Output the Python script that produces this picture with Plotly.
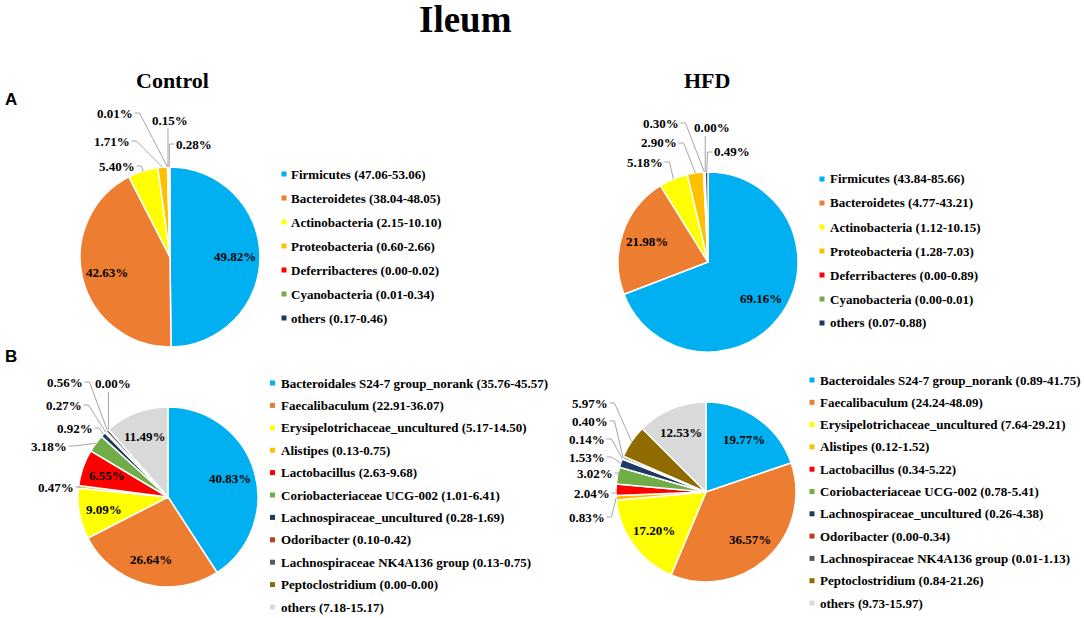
import math
import plotly.graph_objects as go

W, H = 1084, 618

# ---------------- data ----------------
phyla = ["Firmicutes", "Bacteroidetes", "Actinobacteria", "Proteobacteria",
         "Deferribacteres", "Cyanobacteria", "others"]
control_phyla = [49.82, 42.63, 5.40, 1.71, 0.01, 0.15, 0.28]
control_phyla_lo = [47.06, 38.04, 2.15, 0.60, 0.00, 0.01, 0.17]
control_phyla_hi = [53.06, 48.05, 10.10, 2.66, 0.02, 0.34, 0.46]
hfd_phyla = [69.16, 21.98, 5.18, 2.90, 0.30, 0.00, 0.49]
hfd_phyla_lo = [43.84, 4.77, 1.12, 1.28, 0.00, 0.00, 0.07]
hfd_phyla_hi = [85.66, 43.21, 10.15, 7.03, 0.89, 0.01, 0.88]

genera = ["Bacteroidales S24-7 group_norank", "Faecalibaculum",
          "Erysipelotrichaceae_uncultured", "Alistipes", "Lactobacillus",
          "Coriobacteriaceae UCG-002", "Lachnospiraceae_uncultured", "Odoribacter",
          "Lachnospiraceae NK4A136 group", "Peptoclostridium", "others"]
control_genera = [40.83, 26.64, 9.09, 0.47, 6.55, 3.18, 0.92, 0.27, 0.56, 0.00, 11.49]
control_genera_lo = [35.76, 22.91, 5.17, 0.13, 2.63, 1.01, 0.28, 0.10, 0.13, 0.00, 7.18]
control_genera_hi = [45.57, 36.07, 14.50, 0.75, 9.68, 6.41, 1.69, 0.42, 0.75, 0.00, 15.17]
hfd_genera = [19.77, 36.57, 17.20, 0.83, 2.04, 3.02, 1.53, 0.14, 0.40, 5.97, 12.53]
hfd_genera_lo = [0.89, 24.24, 7.64, 0.12, 0.34, 0.78, 0.26, 0.00, 0.01, 0.84, 9.73]
hfd_genera_hi = [41.75, 48.09, 29.21, 1.52, 5.22, 5.41, 4.38, 0.34, 1.13, 21.26, 15.97]

# ---------------- styles / layout ----------------
phyla_colors = ["#00B0F0", "#ED7D31", "#FFFF00", "#FFC000", "#FF0000", "#70AD47", "#203864"]
genera_colors = ["#00B0F0", "#ED7D31", "#FFFF00", "#FFC000", "#FF0000", "#70AD47",
                 "#203864", "#B8401C", "#595959", "#8F6B00", "#D9D9D9"]
SERIF = "Liberation Serif, Times New Roman, serif"
SANS = "Liberation Sans, Arial, sans-serif"
LINE_GREY = "#A6A6A6"

panels = [
    dict(values=control_phyla, labels=phyla, colors=phyla_colors, lo=control_phyla_lo,
         hi=control_phyla_hi, center=(170, 257), r=90, inside=[0, 1],
         outside=[(2, 117, 166, "L"), (3, 112, 141, "L"), (4, 115, 113, "L"),
                  (5, 170, 120, "T"), (6, 194, 144, "R")],
         leg=dict(mx=284, tx=289, y0=174, dy=24.0)),
    dict(values=hfd_phyla, labels=phyla, colors=phyla_colors, lo=hfd_phyla_lo,
         hi=hfd_phyla_hi, center=(708, 262), r=90, inside=[0, 1],
         outside=[(2, 645, 162, "L"), (3, 659, 143, "L"), (4, 661, 123, "L"),
                  (5, 712, 128, "T"), (6, 732, 152, "R")],
         leg=dict(mx=822, tx=828, y0=179, dy=24.0)),
    dict(values=control_genera, labels=genera, colors=genera_colors, lo=control_genera_lo,
         hi=control_genera_hi, center=(168, 497), r=90, inside=[0, 1, 2, 4, 10],
         outside=[(3, 56, 487, "L"), (5, 49, 446, "L"), (6, 75, 428, "L"),
                  (7, 64, 405, "L"), (8, 65, 382, "L"), (9, 113, 384, "T")],
         leg=dict(mx=272.5, tx=279, y0=383, dy=22.4)),
    dict(values=hfd_genera, labels=genera, colors=genera_colors, lo=hfd_genera_lo,
         hi=hfd_genera_hi, center=(706, 492), r=90, inside=[0, 1, 2, 10],
         outside=[(9, 590, 403, "L"), (8, 590, 421, "L"), (7, 587, 439, "L"),
                  (6, 587, 457, "L"), (5, 595, 473, "L"), (4, 592, 493, "L"),
                  (3, 587, 517, "L")],
         leg=dict(mx=812, tx=818, y0=380, dy=22.3)),
]

INSIDE_K = 0.72
HALF_W = 17.5


def px(x):
    return x / W


def py(y):
    return 1 - y / H


def slice_point(values, i, center, r, k):
    total = sum(values)
    frac = (sum(values[:i]) + values[i] / 2) / total
    th = 2 * math.pi * frac
    return center[0] + k * r * math.sin(th), center[1] - k * r * math.cos(th)


LABEL_FONT = dict(family=SERIF, size=13, color="black", weight="bold")

fig = go.Figure()
annotations = []
shapes = []

for p in panels:
    cx, cy = p["center"]
    r = p["r"]
    fig.add_trace(go.Pie(
        values=p["values"], labels=p["labels"], sort=False, direction="clockwise",
        rotation=0, textinfo="none", hoverinfo="skip", showlegend=False,
        marker=dict(colors=p["colors"], line=dict(color="white", width=1.5)),
        domain=dict(x=[px(cx - r), px(cx + r)], y=[py(cy + r), py(cy - r)]),
    ))
    # inside labels
    for i in p["inside"]:
        x, y = slice_point(p["values"], i, (cx, cy), r, INSIDE_K)
        annotations.append(dict(x=px(x), y=py(y), xref="paper", yref="paper",
                                text=f"{p['values'][i]:.2f}%", showarrow=False,
                                font=LABEL_FONT, xanchor="center", yanchor="middle"))
    # outside labels with leader lines
    for (i, x, y, side) in p["outside"]:
        annotations.append(dict(x=px(x), y=py(y), xref="paper", yref="paper",
                                text=f"{p['values'][i]:.2f}%", showarrow=False,
                                font=LABEL_FONT, xanchor="center", yanchor="middle"))
        ex, ey = slice_point(p["values"], i, (cx, cy), r, 1.0)
        if side == "L":
            pts = [(x + HALF_W + 2, y), (x + HALF_W + 7, y), (ex, ey)]
        elif side == "R":
            pts = [(x - HALF_W - 2, y), (x - HALF_W - 7, y), (ex, ey)]
        else:
            sx = min(max(ex, x - 12), x + 12)
            pts = [(sx, y + 8), (ex, ey)]
        path = "M " + " L ".join(f"{px(a):.5f},{py(b):.5f}" for a, b in pts)
        shapes.append(dict(type="path", path=path, xref="paper", yref="paper",
                           line=dict(color=LINE_GREY, width=1)))
    # legend
    lg = p["leg"]
    for j, name in enumerate(p["labels"]):
        yy = lg["y0"] + j * lg["dy"]
        shapes.append(dict(type="rect", xref="paper", yref="paper",
                           x0=px(lg["mx"] - 2.5), x1=px(lg["mx"] + 2.5),
                           y0=py(yy + 2.5), y1=py(yy - 2.5),
                           fillcolor=p["colors"][j], line=dict(width=0)))
        annotations.append(dict(x=px(lg["tx"]), y=py(yy), xref="paper", yref="paper",
                                text=f"{name} ({p['lo'][j]:.2f}-{p['hi'][j]:.2f})",
                                showarrow=False, xanchor="left", yanchor="middle",
                                font=LABEL_FONT))

# titles
titles = [("Ileum", 465, 20, 37, SERIF), ("Control", 172, 80, 22, SERIF),
          ("HFD", 707, 80, 22, SERIF), ("A", 11, 100, 17, SANS), ("B", 11, 356, 17, SANS)]
for t, x, y, s, fam in titles:
    annotations.append(dict(x=px(x), y=py(y), xref="paper", yref="paper", text=t,
                            showarrow=False, xanchor="center", yanchor="middle",
                            font=dict(family=fam, size=s, color="black", weight="bold")))

fig.update_layout(width=W, height=H, margin=dict(l=0, r=0, t=0, b=0),
                  paper_bgcolor="white", plot_bgcolor="white",
                  annotations=annotations, shapes=shapes, showlegend=False)

fig.write_html("out.html", config={"displayModeBar": False},
               post_script="document.body.style.margin='0';document.body.style.overflow='hidden';")
